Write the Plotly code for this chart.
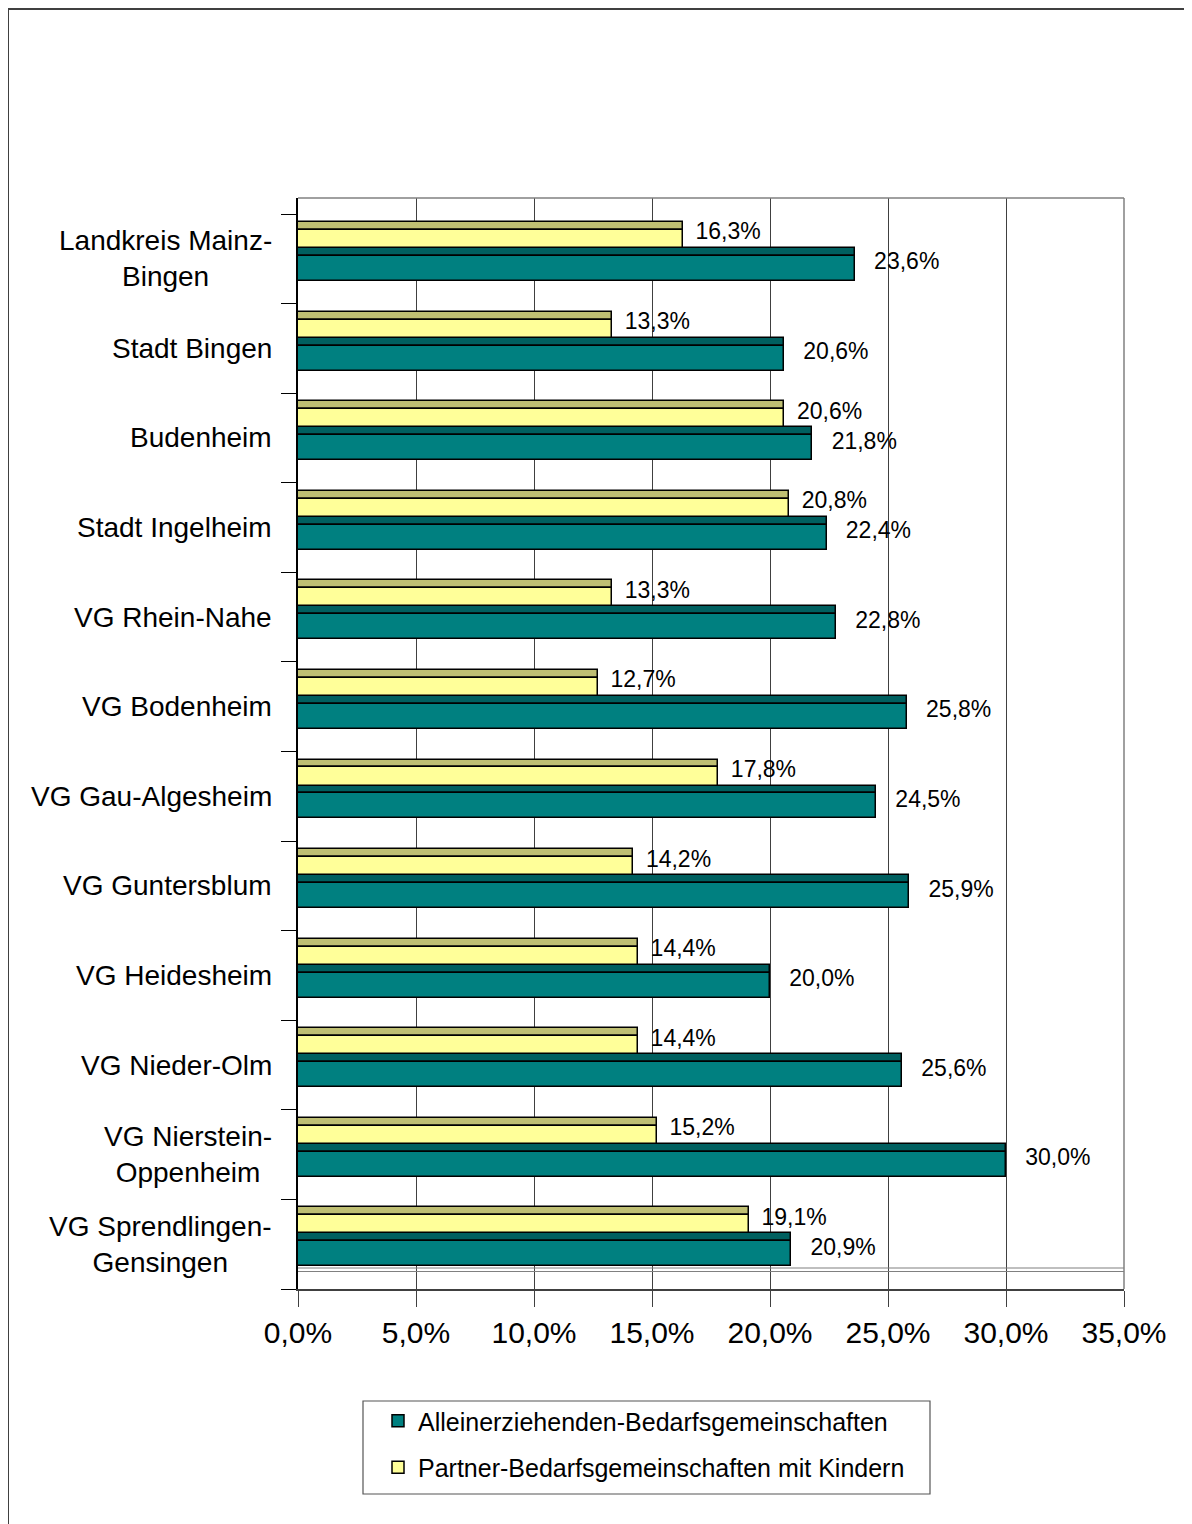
import plotly.graph_objects as go

# ---- data ----
categories = [
    "Landkreis Mainz-<br>Bingen",
    "Stadt Bingen",
    "Budenheim",
    "Stadt Ingelheim",
    "VG Rhein-Nahe",
    "VG Bodenheim",
    "VG Gau-Algesheim",
    "VG Guntersblum",
    "VG Heidesheim",
    "VG Nieder-Olm",
    "VG Nierstein-<br>Oppenheim",
    "VG Sprendlingen-<br>Gensingen",
]
allein = [23.6, 20.6, 21.8, 22.4, 22.8, 25.8, 24.5, 25.9, 20.0, 25.6, 30.0, 20.9]
partner = [16.3, 13.3, 20.6, 20.8, 13.3, 12.7, 17.8, 14.2, 14.4, 14.4, 15.2, 19.1]
series_names = ["Alleinerziehenden-Bedarfsgemeinschaften",
                "Partner-Bedarfsgemeinschaften mit Kindern"]
x_tickvals = [0, 5, 10, 15, 20, 25, 30, 35]
x_ticktext = ["0,0%", "5,0%", "10,0%", "15,0%", "20,0%", "25,0%", "30,0%", "35,0%"]

# ---- layout geometry (page pixels of the target; page body has an 8px margin) ----
OFF = 8
W, H = 1192 - OFF, 1524 - OFF
L, R, T, B = 298 - OFF, 1124 - OFF, 198 - OFF, 1289 - OFF
BAND_TOP = 214 - OFF
FONT = "Arial, Liberation Sans, sans-serif"

TEAL, TEAL_TOP = "#008080", "#006060"
YEL, YEL_TOP = "#FFFF99", "#BFBF73"

idx = list(range(len(categories)))


def fmt(v):
    return "\u00a0\u00a0" + f"{v:.1f}".replace(".", ",") + "%"


def pos(d):
    return [i + d for i in idx]


def fy(py):
    # page y (target coords) -> paper fraction
    return (B - (py - OFF)) / (B - T)


def fx(px):
    return ((px - OFF) - L) / (R - L)


fig = go.Figure()

line = dict(color="black", width=1.5)

# yellow (partner) top face + front
fig.add_trace(go.Bar(y=pos(-0.366), x=partner, width=0.089, orientation="h",
                     marker=dict(color=YEL_TOP, line=line), showlegend=False,
                     legendgroup="p", hoverinfo="skip"))
fig.add_trace(go.Bar(y=pos(-0.182), x=partner, width=0.279, orientation="h",
                     marker=dict(color=YEL, line=line), name=series_names[1],
                     legendgroup="p", legendrank=2))
# teal (allein) top face + front
fig.add_trace(go.Bar(y=pos(-0.076), x=allein, width=0.089, orientation="h",
                     marker=dict(color=TEAL_TOP, line=line), showlegend=False,
                     legendgroup="a", hoverinfo="skip"))
fig.add_trace(go.Bar(y=pos(0.108), x=allein, width=0.279, orientation="h",
                     marker=dict(color=TEAL, line=line), name=series_names[0],
                     legendgroup="a", legendrank=1))

# data labels
fig.add_trace(go.Scatter(x=partner, y=pos(-0.28), mode="text",
                         text=[fmt(v) for v in partner], textposition="middle right",
                         textfont=dict(family=FONT, size=23, color="black"),
                         showlegend=False, hoverinfo="skip", cliponaxis=False))
fig.add_trace(go.Scatter(x=allein, y=pos(0.055), mode="text",
                         text=["\u00a0" + fmt(v) for v in allein], textposition="middle right",
                         textfont=dict(family=FONT, size=23, color="black"),
                         showlegend=False, hoverinfo="skip", cliponaxis=False))

band = (B - BAND_TOP) / len(categories)
top_ext = (BAND_TOP - T) / band

# category labels
for i, c in enumerate(categories):
    fig.add_annotation(x=-(L - (274 - OFF)) / (R - L), xref="x domain", y=i, yref="y",
                       text=c, showarrow=False, xanchor="right", yanchor="middle",
                       align="center", font=dict(family=FONT, size=28, color="black"))

shapes = []
# plot area top & right border (gray)
shapes.append(dict(type="line", xref="x domain", yref="y domain", x0=0, x1=1, y0=1, y1=1,
                   line=dict(color="#808080", width=1.5)))
shapes.append(dict(type="line", xref="x domain", yref="y domain", x0=1, x1=1, y0=0, y1=1,
                   line=dict(color="#808080", width=1.5)))
# floor back edge (double gray line)
for py in (1268, 1271.5):
    shapes.append(dict(type="line", xref="x domain", yref="y domain", x0=0, x1=1,
                       y0=fy(py), y1=fy(py), line=dict(color="#808080", width=1.2)))
# legend box
shapes.append(dict(type="rect", xref="paper", yref="paper",
                   x0=fx(363), x1=fx(930), y0=fy(1494), y1=fy(1401),
                   line=dict(color="#555555", width=1.2), fillcolor="white", layer="below"))
# outer frame
shapes.append(dict(type="rect", xref="paper", yref="paper",
                   x0=fx(8), x1=fx(1300), y0=fy(1600), y1=fy(9),
                   line=dict(color="#404040", width=2), fillcolor="rgba(0,0,0,0)", layer="below"))

fig.update_layout(
    width=W, height=H,
    margin=dict(l=L, r=W - R, t=T, b=H - B, pad=0),
    paper_bgcolor="white", plot_bgcolor="white",
    barmode="overlay", bargap=0,
    font=dict(family=FONT, color="black"),
    shapes=shapes,
    showlegend=True,
    legend=dict(x=fx(378), y=fy(1398), xanchor="left", yanchor="top",
                xref="paper", yref="paper",
                font=dict(family=FONT, size=25, color="black"),
                bgcolor="rgba(0,0,0,0)", borderwidth=0,
                traceorder="grouped", tracegroupgap=11, itemwidth=30),
    xaxis=dict(range=[0, 35], tickvals=x_tickvals, ticktext=x_ticktext,
               showgrid=True, gridcolor="#404040", gridwidth=1,
               ticks="outside", ticklen=16, tickcolor="#404040", tickwidth=1,
               showline=True, linecolor="#404040", linewidth=1.5,
               zeroline=False, tickfont=dict(family=FONT, size=30, color="black")),
    yaxis=dict(range=[len(categories) - 0.5, -0.5 - top_ext],
               tickvals=[i - 0.5 for i in range(len(categories) + 1)],
               ticktext=[""] * (len(categories) + 1),
               ticks="outside", ticklen=15, tickcolor="black", tickwidth=1,
               showgrid=False, zeroline=False,
               showline=True, linecolor="black", linewidth=1.5),
)

fig.write_html("out.html")
